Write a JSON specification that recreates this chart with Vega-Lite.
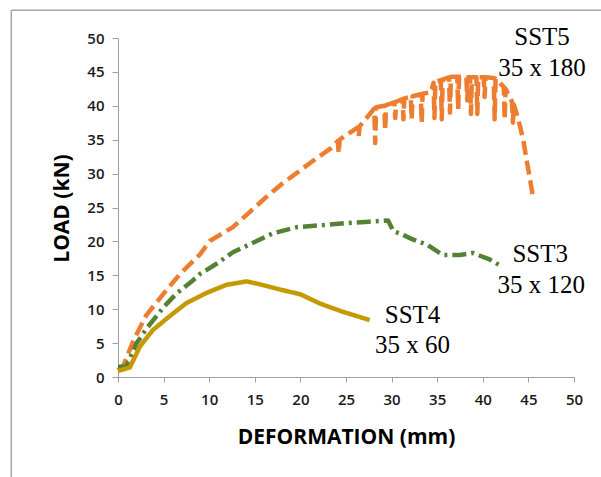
{
  "$schema": "https://vega.github.io/schema/vega-lite/v6.json",
  "width": 456,
  "height": 339,
  "autosize": {"type": "none"},
  "padding": {"left": 118, "top": 38, "right": 27, "bottom": 100},
  "background": "white",
  "config": {"view": {"stroke": null}, "axis": {"labelOverlap": false, "labelBound": false, "labelFlush": false}},
  "datasets": {
    "curves": [
      {"s": "SST5", "d": 0, "load": 1.0},
      {"s": "SST5", "d": 0.6, "load": 1.7},
      {"s": "SST5", "d": 1.7, "load": 5.4},
      {"s": "SST5", "d": 3.1, "load": 9.1},
      {"s": "SST5", "d": 5, "load": 12.3},
      {"s": "SST5", "d": 6.8, "load": 15.2},
      {"s": "SST5", "d": 9, "load": 18.1},
      {"s": "SST5", "d": 10.1, "load": 20.1},
      {"s": "SST5", "d": 12.6, "load": 22.1},
      {"s": "SST5", "d": 14.5, "load": 24.4},
      {"s": "SST5", "d": 16.3, "load": 26.6},
      {"s": "SST5", "d": 18, "load": 28.5},
      {"s": "SST5", "d": 20, "load": 30.5},
      {"s": "SST5", "d": 21.8, "load": 32.3},
      {"s": "SST5", "d": 23.4, "load": 33.8},
      {"s": "SST5", "d": 24.1, "load": 34.8},
      {"s": "SST5", "d": 24.2, "load": 33},
      {"s": "SST5", "d": 24.3, "load": 35},
      {"s": "SST5", "d": 25.4, "load": 36},
      {"s": "SST5", "d": 26.3, "load": 36.8},
      {"s": "SST5", "d": 26.4, "load": 35.5},
      {"s": "SST5", "d": 26.5, "load": 37},
      {"s": "SST5", "d": 27.5, "load": 38.6},
      {"s": "SST5", "d": 28.1, "load": 39.6},
      {"s": "SST5", "d": 28.2, "load": 34.5},
      {"s": "SST5", "d": 28.3, "load": 39.8},
      {"s": "SST5", "d": 29.2, "load": 40},
      {"s": "SST5", "d": 29.3, "load": 36.4},
      {"s": "SST5", "d": 29.4, "load": 40.1},
      {"s": "SST5", "d": 30.3, "load": 40.5},
      {"s": "SST5", "d": 30.4, "load": 38.2},
      {"s": "SST5", "d": 30.5, "load": 40.6},
      {"s": "SST5", "d": 31.2, "load": 41},
      {"s": "SST5", "d": 31.3, "load": 38},
      {"s": "SST5", "d": 31.4, "load": 41.1},
      {"s": "SST5", "d": 32.1, "load": 41.3},
      {"s": "SST5", "d": 32.2, "load": 38},
      {"s": "SST5", "d": 32.3, "load": 41.4},
      {"s": "SST5", "d": 33.2, "load": 41.7},
      {"s": "SST5", "d": 33.3, "load": 37.5},
      {"s": "SST5", "d": 33.4, "load": 41.8},
      {"s": "SST5", "d": 34.3, "load": 42},
      {"s": "SST5", "d": 34.6, "load": 43.4},
      {"s": "SST5", "d": 34.7, "load": 38.2},
      {"s": "SST5", "d": 34.8, "load": 43.5},
      {"s": "SST5", "d": 35.4, "load": 43.8},
      {"s": "SST5", "d": 35.5, "load": 38},
      {"s": "SST5", "d": 35.6, "load": 43.9},
      {"s": "SST5", "d": 36.3, "load": 44.2},
      {"s": "SST5", "d": 36.4, "load": 39},
      {"s": "SST5", "d": 36.5, "load": 44.3},
      {"s": "SST5", "d": 37.2, "load": 44.3},
      {"s": "SST5", "d": 37.3, "load": 39.5},
      {"s": "SST5", "d": 37.4, "load": 44.3},
      {"s": "SST5", "d": 38.2, "load": 44.2},
      {"s": "SST5", "d": 38.3, "load": 40.8},
      {"s": "SST5", "d": 38.4, "load": 44.2},
      {"s": "SST5", "d": 38.6, "load": 44.2},
      {"s": "SST5", "d": 38.7, "load": 38.8},
      {"s": "SST5", "d": 38.8, "load": 44.2},
      {"s": "SST5", "d": 39.3, "load": 44.2},
      {"s": "SST5", "d": 39.4, "load": 38.8},
      {"s": "SST5", "d": 39.5, "load": 44.2},
      {"s": "SST5", "d": 40.1, "load": 44.2},
      {"s": "SST5", "d": 40.2, "load": 41.3},
      {"s": "SST5", "d": 40.3, "load": 44.2},
      {"s": "SST5", "d": 41.2, "load": 44.1},
      {"s": "SST5", "d": 41.3, "load": 38},
      {"s": "SST5", "d": 41.4, "load": 44},
      {"s": "SST5", "d": 42.3, "load": 42.8},
      {"s": "SST5", "d": 42.4, "load": 38},
      {"s": "SST5", "d": 42.5, "load": 42.5},
      {"s": "SST5", "d": 43.2, "load": 40.6},
      {"s": "SST5", "d": 43.3, "load": 37.5},
      {"s": "SST5", "d": 43.4, "load": 40.2},
      {"s": "SST5", "d": 43.7, "load": 38.9},
      {"s": "SST5", "d": 44.1, "load": 36.9},
      {"s": "SST5", "d": 44.5, "load": 34.5},
      {"s": "SST5", "d": 44.8, "load": 32},
      {"s": "SST5", "d": 45.2, "load": 29},
      {"s": "SST5", "d": 45.5, "load": 26.5},
      {"s": "SST3", "d": 0, "load": 1.5},
      {"s": "SST3", "d": 0.9, "load": 1.5},
      {"s": "SST3", "d": 2, "load": 4.9},
      {"s": "SST3", "d": 3.1, "load": 7.1},
      {"s": "SST3", "d": 5, "load": 10.3},
      {"s": "SST3", "d": 6.4, "load": 12.3},
      {"s": "SST3", "d": 8, "load": 14},
      {"s": "SST3", "d": 9, "load": 15.2},
      {"s": "SST3", "d": 10.8, "load": 16.7},
      {"s": "SST3", "d": 12.6, "load": 18.4},
      {"s": "SST3", "d": 14.5, "load": 19.6},
      {"s": "SST3", "d": 17, "load": 21.2},
      {"s": "SST3", "d": 19.6, "load": 22.1},
      {"s": "SST3", "d": 22.5, "load": 22.4},
      {"s": "SST3", "d": 25.1, "load": 22.7},
      {"s": "SST3", "d": 27.5, "load": 22.9},
      {"s": "SST3", "d": 29.6, "load": 23.1},
      {"s": "SST3", "d": 30.2, "load": 21.5},
      {"s": "SST3", "d": 31.2, "load": 21},
      {"s": "SST3", "d": 32.3, "load": 20.3},
      {"s": "SST3", "d": 33.9, "load": 19.5},
      {"s": "SST3", "d": 35.6, "load": 18},
      {"s": "SST3", "d": 37.5, "load": 18},
      {"s": "SST3", "d": 38.9, "load": 18.3},
      {"s": "SST3", "d": 40.8, "load": 17.3},
      {"s": "SST3", "d": 42.1, "load": 16.3},
      {"s": "SST4", "d": 0, "load": 0.9},
      {"s": "SST4", "d": 1.3, "load": 1.4},
      {"s": "SST4", "d": 2.4, "load": 4.5},
      {"s": "SST4", "d": 3.8, "load": 6.9},
      {"s": "SST4", "d": 5.6, "load": 8.9},
      {"s": "SST4", "d": 7.5, "load": 10.9},
      {"s": "SST4", "d": 9.7, "load": 12.4},
      {"s": "SST4", "d": 11.9, "load": 13.6},
      {"s": "SST4", "d": 14.1, "load": 14.1},
      {"s": "SST4", "d": 15.5, "load": 13.7},
      {"s": "SST4", "d": 18.1, "load": 12.8},
      {"s": "SST4", "d": 20, "load": 12.2},
      {"s": "SST4", "d": 22.2, "load": 10.8},
      {"s": "SST4", "d": 24.7, "load": 9.6},
      {"s": "SST4", "d": 27.6, "load": 8.4}
    ],
    "labels": [
      {"d": 46.5, "load": 50.2, "t": "SST5"},
      {"d": 46.5, "load": 45.6, "t": "35 x 180"},
      {"d": 46.3, "load": 18.2, "t": "SST3"},
      {"d": 46.4, "load": 13.6, "t": "35 x 120"},
      {"d": 32.3, "load": 9.1, "t": "SST4"},
      {"d": 32.3, "load": 4.7, "t": "35 x 60"}
    ]
  },
  "layer": [
    {
      "data": {"name": "curves"},
      "mark": {"type": "line", "strokeWidth": 4.5, "strokeCap": "butt", "strokeJoin": "round"},
      "encoding": {
        "x": {
          "field": "d", "type": "quantitative",
          "scale": {"domain": [0, 50], "nice": false},
          "axis": {
            "values": [0, 5, 10, 15, 20, 25, 30, 35, 40, 45, 50],
            "tickCount": 11,
            "labelOverlap": false,
            "title": "DEFORMATION (mm)",
            "grid": false,
            "domainColor": "#a0a0a0", "tickColor": "#a0a0a0", "tickSize": 5,
            "labelFont": "Open Sans", "labelFontWeight": 600, "labelFontSize": 15, "labelColor": "#1a1a1a",
            "labelPadding": 10,
            "titleFont": "Open Sans", "titleFontWeight": "bold", "titleFontSize": 21, "titleColor": "#000000",
            "titleX": 228, "titleY": 60, "titleBaseline": "middle", "titleAlign": "center"
          }
        },
        "y": {
          "field": "load", "type": "quantitative",
          "scale": {"domain": [0, 50], "nice": false},
          "axis": {
            "values": [0, 5, 10, 15, 20, 25, 30, 35, 40, 45, 50],
            "tickCount": 11,
            "labelOverlap": false,
            "title": "LOAD (kN)",
            "grid": false,
            "domainColor": "#a0a0a0", "tickColor": "#a0a0a0", "tickSize": 6,
            "labelFont": "Open Sans", "labelFontWeight": 600, "labelFontSize": 15, "labelColor": "#1a1a1a",
            "labelPadding": 8,
            "titleFont": "Open Sans", "titleFontWeight": "bold", "titleFontSize": 21, "titleColor": "#000000",
            "titleX": -56, "titleY": 170, "titleAngle": -90, "titleBaseline": "middle", "titleAlign": "center"
          }
        },
        "color": {
          "field": "s", "type": "nominal",
          "scale": {"domain": ["SST5", "SST3", "SST4"], "range": ["#ed7d31", "#548235", "#c49a00"]},
          "legend": null
        },
        "strokeDash": {
          "field": "s", "type": "nominal",
          "scale": {"domain": ["SST5", "SST3", "SST4"], "range": [[14, 6], [14, 5, 3, 5], [1, 0]]},
          "legend": null
        },
        "detail": {"field": "s"}
      }
    },
    {
      "data": {"name": "labels"},
      "mark": {"type": "text", "font": "Liberation Serif", "fontSize": 25, "align": "center", "baseline": "middle", "color": "#000000"},
      "encoding": {
        "x": {"field": "d", "type": "quantitative"},
        "y": {"field": "load", "type": "quantitative"},
        "text": {"field": "t"}
      }
    },
    {
      "data": {"values": [{}]},
      "mark": {"type": "rule", "color": "#a6a6a6", "strokeWidth": 1.5, "clip": false},
      "encoding": {
        "x": {"datum": -11.7, "type": "quantitative"},
        "x2": {"datum": -11.7},
        "y": {"datum": 54.1, "type": "quantitative"},
        "y2": {"datum": -15}
      }
    },
    {
      "data": {"values": [{}]},
      "mark": {"type": "rule", "color": "#a6a6a6", "strokeWidth": 1.5, "clip": false},
      "encoding": {
        "x": {"datum": -11.7, "type": "quantitative"},
        "x2": {"datum": 53},
        "y": {"datum": 54.1, "type": "quantitative"}
      }
    }
  ]
}
